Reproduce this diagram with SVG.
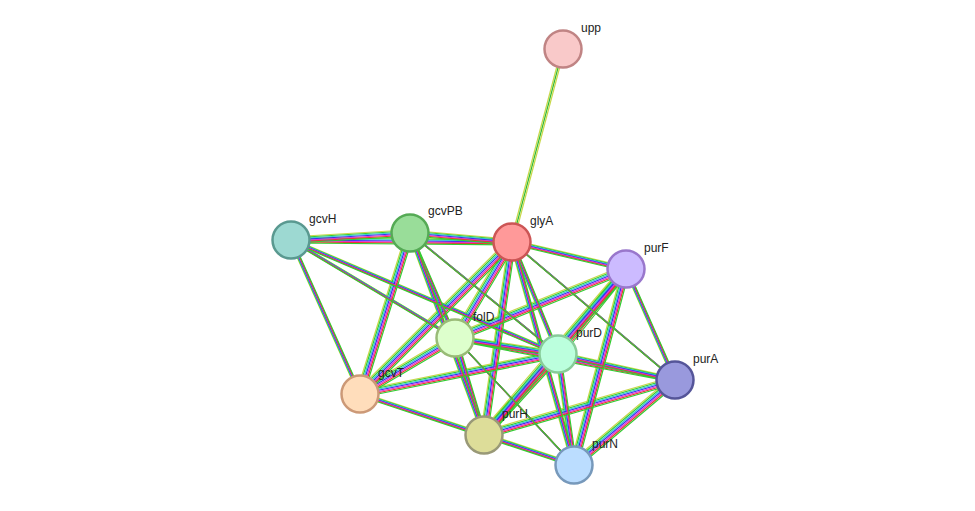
<svg xmlns="http://www.w3.org/2000/svg" xmlns:xlink="http://www.w3.org/1999/xlink" width="975" height="511" viewBox="0 0 975 511">
<style>
.n{stroke-width:2.5}
.t{font-family:"Liberation Sans",Arial,sans-serif;font-size:12px;fill:#222}
#E path{fill:none}
</style>
<defs>
<g id="E">
<path d="M512 242L410 233M512 242L291 240M512 242L626 269M512 242L455 338M512 242L558 354M512 242L675 380M512 242L360 394M512 242L484 435M512 242L574 465
M291 240L410 233M291 240L360 394M291 240L455 338M291 240L558 354
M410 233L360 394M410 233L455 338M410 233L558 354M410 233L484 435
M626 269L455 338M626 269L558 354M626 269L675 380M626 269L484 435M626 269L574 465
M455 338L558 354M455 338L675 380M455 338L360 394M455 338L484 435M455 338L574 465
M558 354L675 380M558 354L360 394M558 354L484 435M558 354L574 465
M675 380L484 435M675 380L574 465M360 394L484 435M360 394L574 465M484 435L574 465"/>
</g>
</defs>
<rect width="975" height="511" fill="#fff"/>
<g id="connectors" stroke-width="1.2">
<line x1="563" y1="49" x2="512" y2="242" stroke="#c8d84a" transform="translate(-1.5,0)"/>
<line x1="563" y1="49" x2="512" y2="242" stroke="#3b3"/>
<line x1="563" y1="49" x2="512" y2="242" stroke="#c8d84a" transform="translate(1.5,0)"/>
<use xlink:href="#E" stroke="#c8d84a" transform="translate(-3,-3)"/>
<use xlink:href="#E" stroke="#3c3" transform="translate(-2,-2)"/>
<use xlink:href="#E" stroke="#3cc" transform="translate(-1,-1)"/>
<use xlink:href="#E" stroke="#33e" />
<use xlink:href="#E" stroke="#d3d" transform="translate(1,1)"/>
<use xlink:href="#E" stroke="#e33" transform="translate(2,2)"/>
<use xlink:href="#E" stroke="#3c3" transform="translate(3,3)"/>
</g>
<g id="upp"><circle class="n" cx="563" cy="49" r="18.5" fill="#f9c9c9" stroke="#c08484"/><text class="t" x="581" y="32">upp</text></g>
<g id="glyA"><circle class="n" cx="512" cy="242" r="18.5" fill="#f99" stroke="#c55"/><text class="t" x="530" y="225">glyA</text></g>
<g id="gcvH"><circle class="n" cx="291" cy="240" r="18.5" fill="#9dd9d2" stroke="#5a9990"/><text class="t" x="309" y="223">gcvH</text></g>
<g id="gcvPB"><circle class="n" cx="410" cy="233" r="18.5" fill="#9d9" stroke="#5a5"/><text class="t" x="428" y="215">gcvPB</text></g>
<g id="purF"><circle class="n" cx="626" cy="269" r="18.5" fill="#cbf" stroke="#97c"/><text class="t" x="644" y="252">purF</text></g>
<g id="folD"><circle class="n" cx="455" cy="338" r="18.5" fill="#dfc" stroke="#9b7"/><text class="t" x="473" y="321">folD</text></g>
<g id="purD"><circle class="n" cx="558" cy="354" r="18.5" fill="#bfd" stroke="#8c9"/><text class="t" x="576" y="337">purD</text></g>
<g id="purA"><circle class="n" cx="675" cy="380" r="18.5" fill="#99d" stroke="#559"/><text class="t" x="693" y="363">purA</text></g>
<g id="gcvT"><circle class="n" cx="360" cy="394" r="18.5" fill="#fdb" stroke="#c97"/><text class="t" x="378" y="377">gcvT</text></g>
<g id="purH"><circle class="n" cx="484" cy="435" r="18.5" fill="#dd9" stroke="#997"/><text class="t" x="502" y="418">purH</text></g>
<g id="purN"><circle class="n" cx="574" cy="465" r="18.5" fill="#bdf" stroke="#79b"/><text class="t" x="592" y="448">purN</text></g>
</svg>
